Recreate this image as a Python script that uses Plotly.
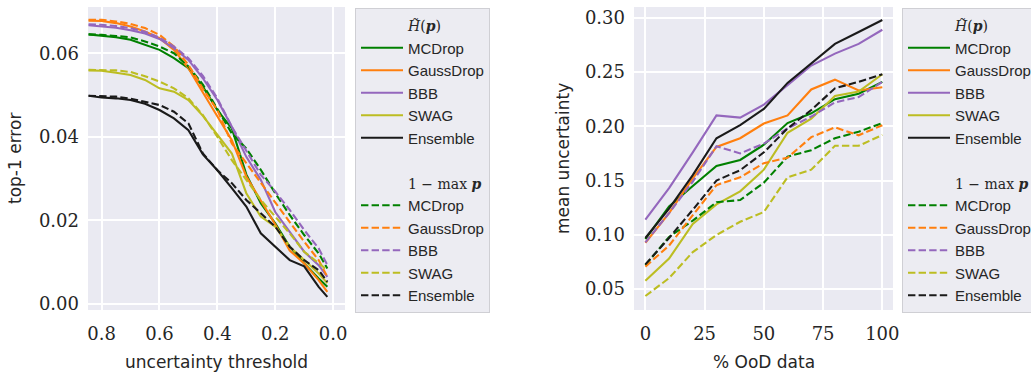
import plotly.graph_objects as go

# ---------------- data ----------------
methods = ["MCDrop", "GaussDrop", "BBB", "SWAG", "Ensemble"]
colors = ["#008000", "#ff7f0e", "#9467bd", "#bcbd22", "#1a1a1a"]

# left panel: top-1 error vs. uncertainty threshold
thresholds = [0.845, 0.8, 0.75, 0.7, 0.65, 0.6, 0.55, 0.5, 0.45, 0.4,
              0.35, 0.3, 0.25, 0.2, 0.15, 0.1, 0.05, 0.02]

err_entropy_mcdrop = [0.0645, 0.0642, 0.0638, 0.0632, 0.0620, 0.0608, 0.0588, 0.0564, 0.0520, 0.0464,
                      0.0420, 0.0310, 0.0241, 0.0193, 0.0137, 0.0097, 0.0061, 0.0041]
err_entropy_gauss = [0.0678, 0.0677, 0.0672, 0.0664, 0.0652, 0.0636, 0.0608, 0.0564, 0.0506, 0.0448,
                     0.0392, 0.0305, 0.0249, 0.0190, 0.0128, 0.0097, 0.0057, 0.0029]
err_entropy_bbb = [0.0667, 0.0665, 0.0661, 0.0655, 0.0647, 0.0634, 0.0612, 0.0584, 0.0540, 0.0488,
                   0.0424, 0.0352, 0.0297, 0.0220, 0.0172, 0.0125, 0.0093, 0.0065]
err_entropy_swag = [0.0559, 0.0558, 0.0553, 0.0548, 0.0536, 0.0516, 0.0508, 0.0488, 0.0450, 0.0404,
                    0.0360, 0.0265, 0.0209, 0.0185, 0.0137, 0.0105, 0.0073, 0.0050]
err_entropy_ens = [0.0498, 0.0494, 0.0492, 0.0488, 0.0479, 0.0464, 0.0444, 0.0416, 0.0358, 0.0320,
                   0.0277, 0.0233, 0.0169, 0.0137, 0.0105, 0.0090, 0.0041, 0.0017]

err_maxp_mcdrop = [0.0645, 0.0644, 0.0641, 0.0638, 0.0628, 0.0616, 0.0600, 0.0568, 0.0525, 0.0466,
                   0.0408, 0.0372, 0.0321, 0.0265, 0.0213, 0.0165, 0.0121, 0.0085]
err_maxp_gauss = [0.0680, 0.0680, 0.0676, 0.0670, 0.0660, 0.0644, 0.0616, 0.0572, 0.0515, 0.0464,
                  0.0384, 0.0337, 0.0289, 0.0241, 0.0197, 0.0149, 0.0105, 0.0065]
err_maxp_bbb = [0.0669, 0.0668, 0.0665, 0.0660, 0.0651, 0.0637, 0.0616, 0.0588, 0.0546, 0.0492,
                0.0424, 0.0368, 0.0309, 0.0269, 0.0225, 0.0177, 0.0133, 0.0093]
err_maxp_swag = [0.0560, 0.0560, 0.0559, 0.0555, 0.0545, 0.0532, 0.0516, 0.0492, 0.0452, 0.0400,
                 0.0344, 0.0297, 0.0249, 0.0209, 0.0169, 0.0125, 0.0097, 0.0081]
err_maxp_ens = [0.0498, 0.0497, 0.0496, 0.0491, 0.0484, 0.0476, 0.0460, 0.0432, 0.0360, 0.0320,
                0.0289, 0.0249, 0.0217, 0.0185, 0.0137, 0.0105, 0.0081, 0.0053]

# right panel: mean uncertainty vs. share of OoD data
ood_pct = [0, 10, 20, 30, 40, 50, 60, 70, 80, 90, 100]

unc_entropy_mcdrop = [0.096, 0.126, 0.145, 0.1635, 0.169, 0.183, 0.203, 0.212, 0.225, 0.230, 0.241]
unc_entropy_gauss = [0.0926, 0.120, 0.152, 0.181, 0.189, 0.2025, 0.210, 0.234, 0.243, 0.233, 0.236]
unc_entropy_bbb = [0.114, 0.143, 0.176, 0.210, 0.208, 0.220, 0.238, 0.256, 0.267, 0.276, 0.289]
unc_entropy_swag = [0.0576, 0.078, 0.110, 0.128, 0.140, 0.160, 0.194, 0.207, 0.228, 0.232, 0.248]
unc_entropy_ens = [0.097, 0.124, 0.155, 0.189, 0.201, 0.216, 0.240, 0.258, 0.276, 0.287, 0.298]

unc_maxp_mcdrop = [0.072, 0.098, 0.113, 0.130, 0.132, 0.148, 0.172, 0.178, 0.189, 0.195, 0.203]
unc_maxp_gauss = [0.0706, 0.090, 0.118, 0.1457, 0.153, 0.166, 0.171, 0.190, 0.199, 0.1917, 0.201]
unc_maxp_bbb = [0.093, 0.120, 0.149, 0.1816, 0.175, 0.184, 0.198, 0.209, 0.222, 0.227, 0.241]
unc_maxp_swag = [0.0435, 0.060, 0.084, 0.0997, 0.112, 0.121, 0.153, 0.160, 0.182, 0.182, 0.192]
unc_maxp_ens = [0.0727, 0.097, 0.123, 0.150, 0.1595, 0.176, 0.198, 0.215, 0.235, 0.241, 0.248]

left_x_ticks = [0.8, 0.6, 0.4, 0.2, 0.0]
left_y_ticks = [0.00, 0.02, 0.04, 0.06]
right_x_ticks = [0, 25, 50, 75, 100]
right_y_ticks = [0.05, 0.10, 0.15, 0.20, 0.25, 0.30]

# ---------------- styling ----------------
W, H = 1031, 373
BG = "#eaeaf2"
TXT = "#262626"
SERIF = "DejaVu Serif"
SANS = "DejaVu Sans"
LEG_SANS = "Liberation Sans"
DASH = "7.4px,3.2px"

head_entropy = ('<span style="font-family:DejaVu Serif;font-size:14px">'
                '<i>H̃</i>(<b><i>p</i></b>)</span>')
head_maxp = ('<span style="font-family:DejaVu Serif;font-size:14px">'
             '1 − max <b><i>p</i></b></span>')

left_entropy = [err_entropy_mcdrop, err_entropy_gauss, err_entropy_bbb, err_entropy_swag, err_entropy_ens]
left_maxp = [err_maxp_mcdrop, err_maxp_gauss, err_maxp_bbb, err_maxp_swag, err_maxp_ens]
right_entropy = [unc_entropy_mcdrop, unc_entropy_gauss, unc_entropy_bbb, unc_entropy_swag, unc_entropy_ens]
right_maxp = [unc_maxp_mcdrop, unc_maxp_gauss, unc_maxp_bbb, unc_maxp_swag, unc_maxp_ens]

fig = go.Figure()


def header(name, xa, ya, legend):
    # invisible entry used as a heading row inside the legend
    fig.add_trace(go.Scatter(x=[None], y=[None], mode="lines", name=name,
                             line=dict(color="rgba(0,0,0,0)", width=0),
                             xaxis=xa, yaxis=ya, legend=legend, hoverinfo="skip"))


def add_panel(xs, solid_sets, dashed_sets, xa, ya, legend):
    header(head_entropy, xa, ya, legend)
    for m, c, ys in zip(methods, colors, solid_sets):
        fig.add_trace(go.Scatter(x=xs, y=ys, mode="lines", name=m,
                                 line=dict(color=c, width=2.1),
                                 xaxis=xa, yaxis=ya, legend=legend))
    header(" ", xa, ya, legend)
    header(head_maxp, xa, ya, legend)
    for m, c, ys in zip(methods, colors, dashed_sets):
        fig.add_trace(go.Scatter(x=xs, y=ys, mode="lines", name=m,
                                 line=dict(color=c, width=2.1, dash=DASH),
                                 xaxis=xa, yaxis=ya, legend=legend))


add_panel(thresholds, left_entropy, left_maxp, "x", "y", "legend")
add_panel(ood_pct, right_entropy, right_maxp, "x2", "y2", "legend2")

# plot-area boxes (pixels)
L1, R1 = 88, 345
L2, R2 = 634, 893
T, B = 7, 310

axis_common = dict(showgrid=True, gridcolor="white", gridwidth=1.6, zeroline=False,
                   showline=False, ticks="", tickfont=dict(family=SERIF, size=18, color=TXT),
                   automargin=False)

leg_common = dict(bgcolor="#ececf2", bordercolor="#cfcfd4", borderwidth=1,
                  font=dict(family=LEG_SANS, size=15, color=TXT),
                  xanchor="left", yanchor="top", traceorder="normal",
                  itemwidth=42, itemclick=False, itemdoubleclick=False)

fig.update_layout(
    width=W, height=H,
    margin=dict(l=0, r=0, t=0, b=0, autoexpand=False),
    paper_bgcolor="white", plot_bgcolor=BG,
    showlegend=True,
    xaxis=dict(axis_common, domain=[L1 / W, R1 / W], range=[0.847, -0.041],
               tickvals=left_x_ticks, ticktext=[f"{v:.1f}" for v in left_x_ticks],
               ticklabelstandoff=11, anchor="y"),
    yaxis=dict(axis_common, domain=[1 - B / H, 1 - T / H], range=[-0.00144, 0.07105],
               tickvals=left_y_ticks, ticktext=[f"{v:.2f}" for v in left_y_ticks],
               ticklabelstandoff=8, anchor="x"),
    xaxis2=dict(axis_common, domain=[L2 / W, R2 / W], range=[-4.8, 104.5],
                tickvals=right_x_ticks, ticktext=[str(v) for v in right_x_ticks],
                ticklabelstandoff=11, anchor="y2"),
    yaxis2=dict(axis_common, domain=[1 - B / H, 1 - T / H], range=[0.0306, 0.310],
                tickvals=right_y_ticks, ticktext=[f"{v:.2f}" for v in right_y_ticks],
                ticklabelstandoff=8, anchor="x2"),
    legend=dict(leg_common, x=355 / W, y=1 - 8 / H),
    legend2=dict(leg_common, x=902 / W, y=1 - 8 / H),
)

# axis titles
title_font = dict(family=SANS, size=17, color=TXT)
title_common = dict(xref="paper", yref="paper", showarrow=False, font=title_font,
                    xanchor="center", yanchor="middle")
fig.add_annotation(title_common, text="top-1 error", x=15 / W, y=1 - 159 / H, textangle=-90)
fig.add_annotation(title_common, text="uncertainty threshold", x=(L1 + R1) / 2 / W, y=1 - 362 / H)
fig.add_annotation(title_common, text="mean uncertainty", x=563 / W, y=1 - 159 / H, textangle=-90)
fig.add_annotation(title_common, text="% OoD data", x=(L2 + R2) / 2 / W, y=1 - 362 / H)

fig.write_html("out.html")
